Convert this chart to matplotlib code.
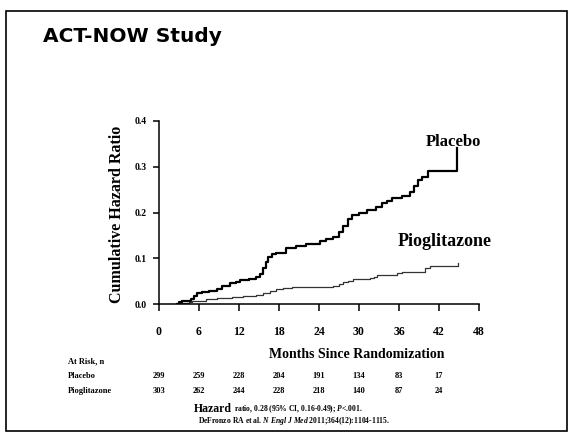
"""ACT-NOW study: cumulative hazard, placebo vs pioglitazone."""

import matplotlib
matplotlib.use("Agg")
import matplotlib.pyplot as plt
from matplotlib.patches import Rectangle

plt.rcParams['mathtext.fontset'] = 'custom'
plt.rcParams['mathtext.rm'] = 'Liberation Serif:bold'
plt.rcParams['mathtext.it'] = 'Liberation Serif:italic:bold'

## data
placebo_months = [2.7, 3.0, 3.5, 4.8, 5.2, 5.7, 6.5, 7.5, 8.7, 9.5, 10.6, 11.5,
                  12.1, 13.5, 14.5, 15.1, 15.6, 16.0, 16.4, 17.0, 17.5, 19.0,
                  20.5, 22.0, 24.1, 25.0, 26.1, 27.0, 27.6, 28.3, 29.0, 30.0,
                  31.2, 32.5, 33.5, 34.2, 35.0, 36.5, 37.6, 38.2, 38.8, 39.5,
                  40.3, 44.7, 44.7]
placebo_hr = [0.0, 0.004, 0.007, 0.010, 0.018, 0.024, 0.027, 0.029, 0.033,
              0.040, 0.046, 0.049, 0.052, 0.055, 0.060, 0.066, 0.078, 0.092,
              0.102, 0.109, 0.111, 0.123, 0.126, 0.131, 0.137, 0.141, 0.147,
              0.158, 0.170, 0.185, 0.195, 0.198, 0.205, 0.213, 0.220, 0.226,
              0.232, 0.236, 0.244, 0.258, 0.270, 0.278, 0.290, 0.290, 0.340]

pio_months = [2.7, 3.0, 4.5, 5.0, 7.0, 8.7, 11.0, 12.6, 14.5, 15.6, 16.6, 17.5,
              18.6, 20.0, 24.1, 26.1, 27.0, 27.6, 28.3, 29.1, 31.6, 32.2, 32.7,
              35.7, 36.5, 39.1, 39.9, 40.6, 44.8, 44.8]
pio_hr = [0.0, 0.003, 0.005, 0.007, 0.010, 0.013, 0.015, 0.017, 0.020, 0.024,
          0.028, 0.032, 0.036, 0.037, 0.038, 0.040, 0.044, 0.047, 0.051, 0.054,
          0.056, 0.060, 0.063, 0.067, 0.069, 0.071, 0.078, 0.083, 0.083, 0.090]

x_ticks = [0, 6, 12, 18, 24, 30, 36, 42, 48]
y_ticks = [0.0, 0.1, 0.2, 0.3, 0.4]

risk_months = [0, 6, 12, 18, 24, 30, 36, 42]
risk_placebo = [299, 259, 228, 204, 191, 134, 83, 17]
risk_pio = [303, 262, 244, 228, 218, 140, 87, 24]

serif = 'Liberation Serif'

fig = plt.figure(figsize=(5.7, 4.32), dpi=100)

# slide frame
fig.patches.append(Rectangle((6 / 570, 1 / 432), 561 / 570, 420 / 432,
                             transform=fig.transFigure, fill=False,
                             edgecolor='black', linewidth=1.2))
fig.text(43 / 570, 1 - 36 / 432, 'ACT-NOW Study', fontsize=14.5,
         fontweight='bold', family='DejaVu Sans', va='center', ha='left')

ax = fig.add_axes([159 / 570, 1 - 304 / 432, 320 / 570, 183 / 432])

ax.plot(placebo_months, placebo_hr, drawstyle='steps-post', color='black',
        linewidth=1.6)
ax.plot(pio_months, pio_hr, drawstyle='steps-post', color='#333333',
        linewidth=0.9)

ax.set_xlim(0, 48)
ax.set_ylim(0, 0.4)
ax.set_xticks(x_ticks)
ax.set_yticks(y_ticks)
ax.set_xticklabels([str(t) for t in x_ticks], family=serif,
                   fontweight='bold', fontsize=8.5)
ax.set_yticklabels(['%.1f' % t for t in y_ticks], family=serif,
                   fontweight='bold', fontsize=7)
ax.tick_params(axis='x', direction='out', length=5, width=1.1, pad=11)
ax.tick_params(axis='y', direction='out', length=4, width=1.1, pad=5)
for side in ['top', 'right']:
    ax.spines[side].set_visible(False)
for side in ['left', 'bottom']:
    ax.spines[side].set_linewidth(1.1)

ax.text(44.1, 0.355, 'Placebo', family=serif, fontweight='bold', fontsize=12,
        ha='center', va='center')
ax.text(42.9, 0.137, 'Pioglitazone', family=serif, fontweight='bold',
        fontsize=13, ha='center', va='center')

fig.text(117 / 570, 1 - 214 / 432, 'Cumulative Hazard Ratio', rotation=90,
         family=serif, fontweight='bold', fontsize=11.5, ha='center',
         va='center')
fig.text(357 / 570, 1 - 355 / 432, 'Months Since Randomization',
         family=serif, fontweight='bold', fontsize=10, ha='center',
         va='center')

# at-risk table
fig.text(68 / 570, 1 - 361 / 432, 'At Risk, n', family=serif,
         fontweight='bold', fontsize=6, va='center')
fig.text(68 / 570, 1 - 376 / 432, 'Placebo', family=serif,
         fontweight='bold', fontsize=6, va='center')
fig.text(68 / 570, 1 - 391 / 432, 'Pioglitazone', family=serif,
         fontweight='bold', fontsize=6, va='center')
trans = ax.get_xaxis_transform()
for m, n1, n2 in zip(risk_months, risk_placebo, risk_pio):
    ax.text(m, -72 / 183, str(n1), transform=trans, family=serif,
            fontweight='bold', fontsize=6, ha='center', va='center',
            clip_on=False)
    ax.text(m, -87 / 183, str(n2), transform=trans, family=serif,
            fontweight='bold', fontsize=6, ha='center', va='center',
            clip_on=False)

fig.text(232 / 570, 1 - 409 / 432, 'Hazard', family=serif, fontweight='bold',
         fontsize=8.5, ha='right', va='center')
fig.text(234 / 570, 1 - 409 / 432,
         r'ratio, 0.28 (95% CI, 0.16-0.49); $\mathit{P}$<.001.',
         family=serif, fontweight='bold', fontsize=5.5, ha='left',
         va='center')
fig.text(294 / 570, 1 - 421 / 432,
         r'DeFronzo RA et al. $\mathit{N\ Engl\ J\ Med}$ 2011;364(12):1104-1115.',
         family=serif, fontweight='bold', fontsize=5.5, ha='center',
         va='center')

fig.savefig('out.png', dpi=100)
